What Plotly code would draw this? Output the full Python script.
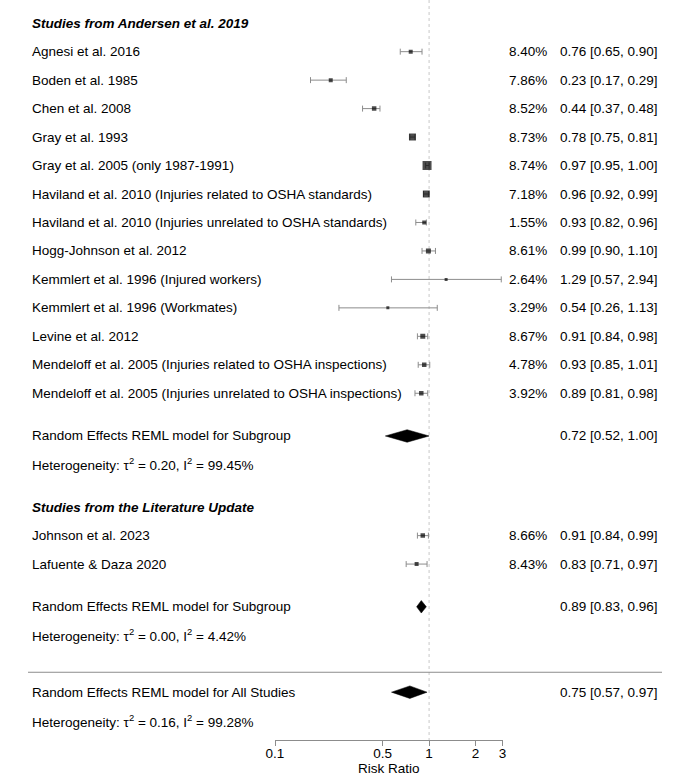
import plotly.graph_objects as go

# ---------------- data ----------------
group1_title = "Studies from Andersen et al. 2019"
group1_studies = [
    "Agnesi et al. 2016",
    "Boden et al. 1985",
    "Chen et al. 2008",
    "Gray et al. 1993",
    "Gray et al. 2005 (only 1987-1991)",
    "Haviland et al. 2010 (Injuries related to OSHA standards)",
    "Haviland et al. 2010 (Injuries unrelated to OSHA standards)",
    "Hogg-Johnson et al. 2012",
    "Kemmlert et al. 1996 (Injured workers)",
    "Kemmlert et al. 1996 (Workmates)",
    "Levine et al. 2012",
    "Mendeloff et al. 2005 (Injuries related to OSHA inspections)",
    "Mendeloff et al. 2005 (Injuries unrelated to OSHA inspections)",
]
group1_weights = [8.40, 7.86, 8.52, 8.73, 8.74, 7.18, 1.55, 8.61, 2.64, 3.29, 8.67, 4.78, 3.92]
group1_est = [0.76, 0.23, 0.44, 0.78, 0.97, 0.96, 0.93, 0.99, 1.29, 0.54, 0.91, 0.93, 0.89]
group1_lo = [0.65, 0.17, 0.37, 0.75, 0.95, 0.92, 0.82, 0.90, 0.57, 0.26, 0.84, 0.85, 0.81]
group1_hi = [0.90, 0.29, 0.48, 0.81, 1.00, 0.99, 0.96, 1.10, 2.94, 1.13, 0.98, 1.01, 0.98]
group1_re = (0.72, 0.52, 1.00)
group1_het = ("0.20", "99.45")

group2_title = "Studies from the Literature Update"
group2_studies = ["Johnson et al. 2023", "Lafuente & Daza 2020"]
group2_weights = [8.66, 8.43]
group2_est = [0.91, 0.83]
group2_lo = [0.84, 0.71]
group2_hi = [0.99, 0.97]
group2_re = (0.89, 0.83, 0.96)
group2_het = ("0.00", "4.42")

all_re = (0.75, 0.57, 0.97)
all_het = ("0.16", "99.28")

tick_vals = [0.1, 0.5, 1, 2, 3]
tick_text = ["0.1", "0.5", "1", "2", "3"]

# ---------------- styling / layout ----------------
W, H = 691, 779
FONT = "Liberation Sans, Arial, sans-serif"
FS = 13.5
group1_msize = [4, 4, 4.5, 7, 9, 7, 4, 5, 3, 3, 5, 4.5, 4.5]
group2_msize = [4.5, 4]
DIA_H = 0.22
GREY = "#8c8c8c"

# row layout (in row units)
g1_rows = [1 + i for i in range(len(group1_studies))]
g1_head, g1_re_row, g1_het_row = 0, 14.5, 15.5
g2_head = 17
g2_rows = [18 + i for i in range(len(group2_studies))]
g2_re_row, g2_het_row = 20.5, 21.5
sep_row = 22.8
all_re_row, all_het_row = 23.5, 24.5
y_top, y_bot = -0.815, 25.18

X_LAB = 30 / W
X_W = 549 / W
X_CI = 660 / W

fig = go.Figure()

# reference line at 1
fig.add_trace(go.Scatter(x=[1, 1], y=[y_top, y_bot], mode="lines",
                         line=dict(color="#c8c8c8", width=1, dash="dot"),
                         hoverinfo="skip", showlegend=False))

def add_studies(rows, est, lo, hi, sizes):
    fig.add_trace(go.Scatter(
        x=est, y=rows, mode="markers",
        marker=dict(symbol="square", size=sizes, color="black", line=dict(width=0)),
        error_x=dict(type="data", symmetric=False,
                     array=[h - e for h, e in zip(hi, est)],
                     arrayminus=[e - l for e, l in zip(est, lo)],
                     color=GREY, thickness=1, width=3),
        showlegend=False, hoverinfo="skip"))

def add_diamond(row, summ):
    e, l, h = summ
    fig.add_trace(go.Scatter(
        x=[l, e, h, e, l], y=[row, row - DIA_H, row, row + DIA_H, row],
        mode="lines", fill="toself", fillcolor="black",
        line=dict(color="black", width=0.5), showlegend=False, hoverinfo="skip"))

add_studies(g1_rows, group1_est, group1_lo, group1_hi, group1_msize)
add_studies(g2_rows, group2_est, group2_lo, group2_hi, group2_msize)
add_diamond(g1_re_row, group1_re)
add_diamond(g2_re_row, group2_re)
add_diamond(all_re_row, all_re)

ann = []

def txt(x, y, s, anchor):
    ann.append(dict(x=x, y=y, xref="paper", yref="y", text=s, showarrow=False,
                    xanchor=anchor, yanchor="middle",
                    font=dict(family=FONT, size=FS, color="black")))

def ci_str(e, l, h):
    return f"{e:.2f} [{l:.2f}, {h:.2f}]"

def het_str(t, i2):
    return f"Heterogeneity: \u03c4<sup>2</sup> = {t}, I<sup>2</sup> = {i2}%"

txt(X_LAB, g1_head, f"<b><i>{group1_title}</i></b>", "left")
for r, s, w, e, l, h in zip(g1_rows, group1_studies, group1_weights, group1_est, group1_lo, group1_hi):
    txt(X_LAB, r, s, "left")
    txt(X_W, r, f"{w:.2f}%", "right")
    txt(X_CI, r, ci_str(e, l, h), "right")
txt(X_LAB, g1_re_row, "Random Effects REML model for Subgroup", "left")
txt(X_CI, g1_re_row, ci_str(*group1_re), "right")
txt(X_LAB, g1_het_row, het_str(*group1_het), "left")

txt(X_LAB, g2_head, f"<b><i>{group2_title}</i></b>", "left")
for r, s, w, e, l, h in zip(g2_rows, group2_studies, group2_weights, group2_est, group2_lo, group2_hi):
    txt(X_LAB, r, s, "left")
    txt(X_W, r, f"{w:.2f}%", "right")
    txt(X_CI, r, ci_str(e, l, h), "right")
txt(X_LAB, g2_re_row, "Random Effects REML model for Subgroup", "left")
txt(X_CI, g2_re_row, ci_str(*group2_re), "right")
txt(X_LAB, g2_het_row, het_str(*group2_het), "left")

txt(X_LAB, all_re_row, "Random Effects REML model for All Studies", "left")
txt(X_CI, all_re_row, ci_str(*all_re), "right")
txt(X_LAB, all_het_row, het_str(*all_het), "left")

fig.update_layout(
    width=W, height=H,
    margin=dict(l=0, r=0, t=0, b=39),
    paper_bgcolor="white", plot_bgcolor="white",
    showlegend=False,
    annotations=ann,
    shapes=[dict(type="line", xref="paper", yref="y", x0=28 / W, x1=662 / W,
                 y0=sep_row, y1=sep_row, line=dict(color=GREY, width=1))],
    xaxis=dict(type="log", domain=[275 / W, 502.6 / W], range=[-1, 0.47712],
               tickvals=tick_vals, ticktext=tick_text,
               showgrid=False, zeroline=False, showline=True, linecolor=GREY, linewidth=1,
               ticks="outside", ticklen=5, tickcolor=GREY, tickwidth=1,
               ticklabelstandoff=-4,
               tickfont=dict(family=FONT, size=FS, color="black"),
               title=dict(text="Risk Ratio", font=dict(family=FONT, size=FS, color="black"),
                          standoff=2),
               automargin=False),
    yaxis=dict(range=[y_bot, y_top], visible=False, showgrid=False, zeroline=False,
               automargin=False),
)

fig.write_html("out.html", config={"displayModeBar": False},
               post_script="document.body.style.margin='0px';document.body.style.overflow='hidden';")
